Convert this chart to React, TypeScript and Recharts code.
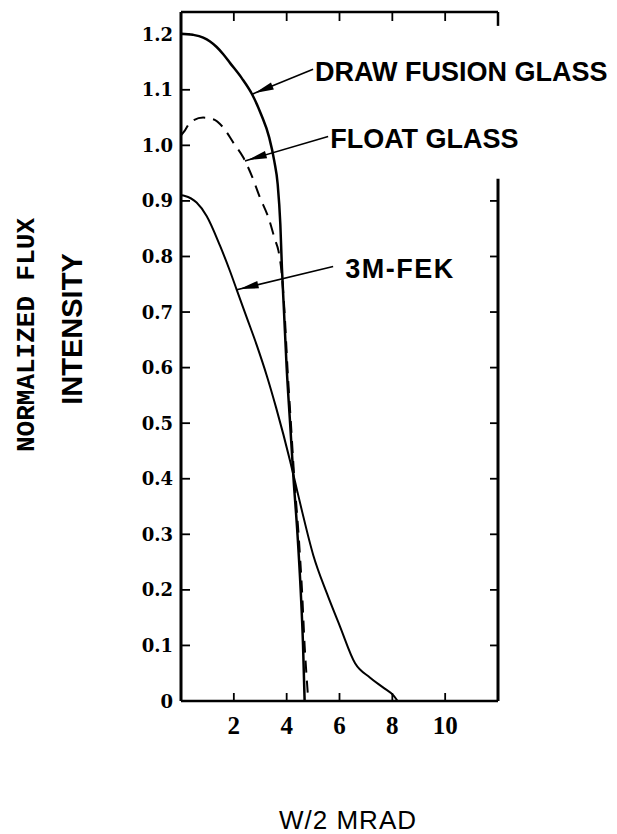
import { LineChart, Line, XAxis, YAxis, ReferenceLine } from 'recharts'

// x in mrad, y normalised
const drawFusion = [
  { x: 0, y: 1.201 }, { x: 0.45, y: 1.199 }, { x: 0.84, y: 1.194 }, { x: 1.1, y: 1.187 },
  { x: 1.35, y: 1.177 }, { x: 1.6, y: 1.164 }, { x: 1.86, y: 1.148 }, { x: 2.3, y: 1.121 },
  { x: 2.69, y: 1.092 }, { x: 3.03, y: 1.056 }, { x: 3.34, y: 1.014 }, { x: 3.53, y: 0.972 },
  { x: 3.66, y: 0.93 }, { x: 3.76, y: 0.858 }, { x: 3.82, y: 0.78 }, { x: 3.9, y: 0.7 },
  { x: 4.0, y: 0.6 }, { x: 4.13, y: 0.5 }, { x: 4.26, y: 0.4 }, { x: 4.41, y: 0.3 },
  { x: 4.53, y: 0.2 }, { x: 4.62, y: 0.1 }, { x: 4.68, y: 0 },
]

const floatGlass = [
  { x: 0, y: 1.018 }, { x: 0.15, y: 1.027 }, { x: 0.34, y: 1.041 }, { x: 0.84, y: 1.05 },
  { x: 1.22, y: 1.047 }, { x: 1.6, y: 1.032 }, { x: 1.98, y: 1.005 }, { x: 2.36, y: 0.978 },
  { x: 2.68, y: 0.945 }, { x: 2.99, y: 0.906 }, { x: 3.31, y: 0.87 }, { x: 3.56, y: 0.83 },
  { x: 3.69, y: 0.81 }, { x: 3.8, y: 0.775 }, { x: 3.92, y: 0.7 }, { x: 4.03, y: 0.6 },
  { x: 4.16, y: 0.5 }, { x: 4.29, y: 0.4 }, { x: 4.45, y: 0.3 }, { x: 4.58, y: 0.2 },
  { x: 4.68, y: 0.1 }, { x: 4.76, y: 0.04 }, { x: 4.82, y: 0 },
]

const fek = [
  { x: 0, y: 0.91 }, { x: 0.15, y: 0.909 }, { x: 0.59, y: 0.897 }, { x: 0.97, y: 0.873 },
  { x: 1.48, y: 0.819 }, { x: 1.86, y: 0.773 }, { x: 2.11, y: 0.74 }, { x: 2.49, y: 0.69 },
  { x: 2.87, y: 0.64 }, { x: 3.25, y: 0.585 }, { x: 3.6, y: 0.528 }, { x: 4.13, y: 0.432 },
  { x: 4.32, y: 0.394 }, { x: 4.57, y: 0.344 }, { x: 5.01, y: 0.262 }, { x: 5.52, y: 0.194 },
  { x: 6.02, y: 0.134 }, { x: 6.59, y: 0.068 }, { x: 7.16, y: 0.042 }, { x: 7.66, y: 0.024 },
  { x: 8.04, y: 0.01 }, { x: 8.2, y: 0 },
]

const xTicks = [2, 4, 6, 8, 10]
const yTicks = [0, 0.1, 0.2, 0.3, 0.4, 0.5, 0.6, 0.7, 0.8, 0.9, 1.0, 1.1, 1.2]
const rightTicks = ['0.1', '0.2', '0.3', '0.4', '0.5', '0.6', '0.7', '0.8', '0.9']

// [tip, tail] of each callout arrow, and its text
const callouts = [
  { text: 'DRAW FUSION GLASS', tip: { x: 2.69, y: 1.092 }, tail: { x: 5.0, y: 1.137 }, dx: 2, ls: 0 },
  { text: 'FLOAT GLASS', tip: { x: 2.42, y: 0.972 }, tail: { x: 5.57, y: 1.016 }, dx: 2, ls: 0 },
  { text: '3M-FEK', tip: { x: 2.11, y: 0.74 }, tail: { x: 5.76, y: 0.782 }, dx: 12, ls: 1.5 },
]

const sans = 'Liberation Sans, Arial, sans-serif'
const W = 601
const H = 826
const PLOT = { left: 173, right: 490, top: 4, bottom: 693 }

function calloutShape(text: string, dx: number, ls: number) {
  return (p: any) => {
    const { x1, y1, x2, y2 } = p
    const a = Math.atan2(y2 - y1, x2 - x1)
    const s = 3
    const L = 22
    const hw = 3.8
    const ax = x1 + s * Math.cos(a)
    const ay = y1 + s * Math.sin(a)
    const bx = x1 + L * Math.cos(a)
    const by = y1 + L * Math.sin(a)
    const px = -Math.sin(a) * hw
    const py = Math.cos(a) * hw
    return (
      <g>
        <line x1={x1} y1={y1} x2={x2} y2={y2} stroke="#000" strokeWidth={1.6} />
        <polygon points={`${ax},${ay} ${bx + px},${by + py} ${bx - px},${by - py}`} fill="#000" />
        <text
          x={x2 + dx}
          y={y2 + 3}
          dominantBaseline="central"
          fontFamily={sans}
          fontWeight="bold"
          fontSize={27}
          letterSpacing={ls}
          fill="#000"
        >
          {text}
        </text>
      </g>
    )
  }
}

const fmtY = (v: number) => (v === 0 ? '0' : v.toFixed(1))

// bottom labels, with inward ticks on the bottom and top edges
function XTick(p: any) {
  const x = p.x
  return (
    <g>
      <line x1={x} x2={x} y1={PLOT.bottom} y2={PLOT.bottom - 8} stroke="#000" strokeWidth={1.8} />
      <line x1={x} x2={x} y1={PLOT.top} y2={PLOT.top + 9} stroke="#000" strokeWidth={1.8} />
      <text
        x={x}
        y={PLOT.bottom + 24}
        textAnchor="middle"
        dominantBaseline="central"
        fontFamily="Liberation Serif, serif"
        fontWeight="bold"
        fontSize={25}
        fill="#000"
      >
        {p.payload.value}
      </text>
    </g>
  )
}

// left labels, with inward ticks on the left edge and (lower part) right edge
function YTick(p: any) {
  const y = p.y
  const lab = fmtY(p.payload.value)
  return (
    <g>
      <line x1={PLOT.left} x2={PLOT.left + 9} y1={y} y2={y} stroke="#000" strokeWidth={1.8} />
      {rightTicks.includes(lab) && (
        <line x1={PLOT.right - 8} x2={PLOT.right} y1={y} y2={y} stroke="#000" strokeWidth={1.8} />
      )}
      <text
        x={PLOT.left - 8}
        y={y}
        textAnchor="end"
        dominantBaseline="central"
        fontFamily="DejaVu Serif, serif"
        fontWeight="bold"
        fontSize={18}
        fill="#000"
      >
        {lab}
      </text>
    </g>
  )
}

export default function App() {
  return (
    <div style={{ width: W, height: H }}>
      <LineChart width={W} height={H} margin={{ top: PLOT.top, right: W - PLOT.right, bottom: 0, left: 0 }}>
        <XAxis
          type="number"
          dataKey="x"
          domain={[0, 12]}
          ticks={xTicks}
          height={H - PLOT.bottom}
          axisLine={false}
          tickLine={false}
          tick={XTick}
          label={{
            content: () => (
              <text
                x={340}
                y={812}
                textAnchor="middle"
                dominantBaseline="central"
                fontFamily={sans}
                fontSize={26}
                letterSpacing={1}
                fill="#000"
              >
                W/2 MRAD
              </text>
            ),
          }}
        />
        <YAxis
          type="number"
          domain={[0, 1.24]}
          ticks={yTicks}
          width={PLOT.left}
          axisLine={{ stroke: '#000', strokeWidth: 3 }}
          tickLine={false}
          tick={YTick}
          label={{
            content: () => (
              <g>
                <text
                  transform="translate(19,327) rotate(-90)"
                  textAnchor="middle"
                  dominantBaseline="central"
                  fontFamily="Liberation Mono, Courier New, monospace"
                  fontWeight="bold"
                  fontSize={26}
                  fill="#000"
                >
                  NORMALIZED FLUX
                </text>
                <text
                  transform="translate(64,321) rotate(-90)"
                  textAnchor="middle"
                  dominantBaseline="central"
                  fontFamily={sans}
                  fontWeight="bold"
                  fontSize={29}
                  fill="#000"
                >
                  INTENSITY
                </text>
              </g>
            ),
          }}
        />

        {/* frame */}
        <ReferenceLine segment={[{ x: 0, y: 0 }, { x: 12, y: 0 }]} stroke="#000" strokeWidth={2.5} />
        <ReferenceLine segment={[{ x: 0, y: 1.24 }, { x: 12, y: 1.24 }]} stroke="#000" strokeWidth={2.5} />
        <ReferenceLine segment={[{ x: 12, y: 0 }, { x: 12, y: 0.94 }]} stroke="#000" strokeWidth={3} />
        <ReferenceLine segment={[{ x: 12, y: 1.215 }, { x: 12, y: 1.24 }]} stroke="#000" strokeWidth={2.5} />

        <Line data={drawFusion} dataKey="y" type="monotone" stroke="#000" strokeWidth={2.5} dot={false} activeDot={false} isAnimationActive={false} />
        <Line data={floatGlass} dataKey="y" type="monotone" stroke="#000" strokeWidth={2} strokeDasharray="12 8" dot={false} activeDot={false} isAnimationActive={false} />
        <Line data={fek} dataKey="y" type="monotone" stroke="#000" strokeWidth={2} dot={false} activeDot={false} isAnimationActive={false} />

        {callouts.map((c) => (
          <ReferenceLine key={c.text} segment={[c.tip, c.tail]} shape={calloutShape(c.text, c.dx, c.ls)} />
        ))}
      </LineChart>
    </div>
  )
}
